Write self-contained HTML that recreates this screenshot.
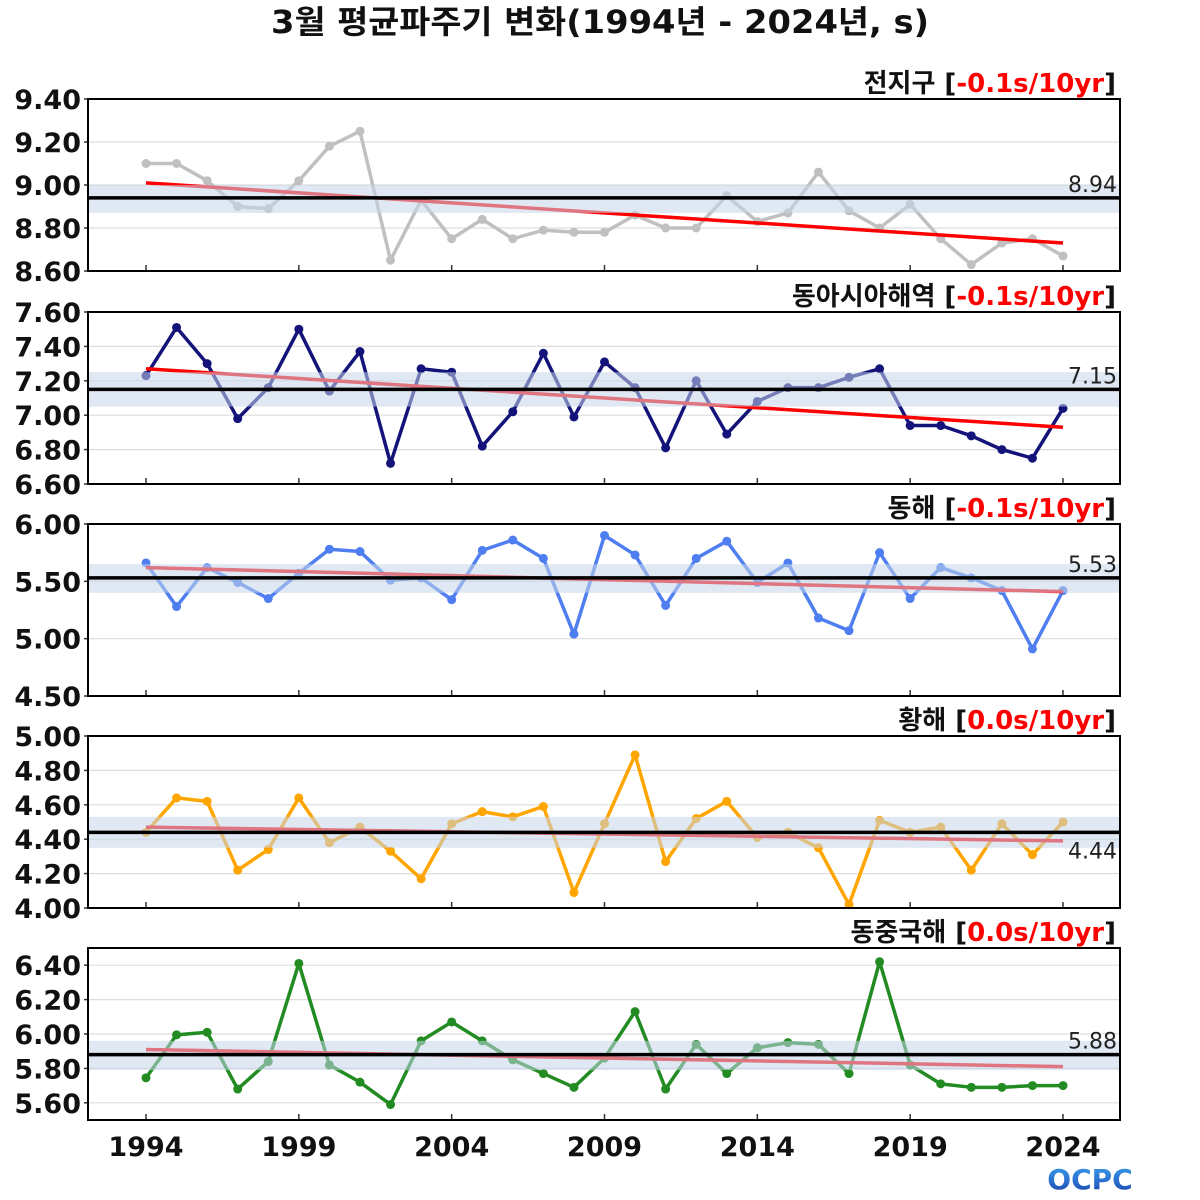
<!DOCTYPE html>
<html><head><meta charset="utf-8">
<style>
html,body{margin:0;padding:0;background:#fff;}
svg{display:block;font-family:"DejaVu Sans","Noto Sans CJK KR",sans-serif;}
</style></head>
<body>
<svg id="chart" width="1200" height="1200" viewBox="0 0 1200 1200" xmlns="http://www.w3.org/2000/svg">
<text x="600" y="33" text-anchor="middle" font-size="32" font-weight="bold" fill="#111" textLength="658" lengthAdjust="spacingAndGlyphs">3월 평균파주기 변화(1994년 - 2024년, s)</text>
<defs><linearGradient id="lg" x1="0" y1="0" x2="0" y2="1"><stop offset="0" stop-color="#3aa0e8"/><stop offset="0.55" stop-color="#2a6fd0"/><stop offset="1" stop-color="#1a3fa0"/></linearGradient></defs>
<text x="1090" y="1189" text-anchor="middle" font-size="28" font-weight="bold" fill="url(#lg)">OCPC</text>
</svg>
<script>
const years = [1994,1995,1996,1997,1998,1999,2000,2001,2002,2003,2004,2005,2006,2007,2008,2009,2010,2011,2012,2013,2014,2015,2016,2017,2018,2019,2020,2021,2022,2023,2024];
const xTickYears = [1994,1999,2004,2009,2014,2019,2024];
const globalVals = [9.10,9.10,9.02,8.90,8.89,9.02,9.18,9.25,8.65,8.93,8.75,8.84,8.75,8.79,8.78,8.78,8.86,8.80,8.80,8.95,8.83,8.87,9.06,8.88,8.80,8.91,8.75,8.63,8.73,8.75,8.67];
const eastAsiaVals = [7.23,7.51,7.30,6.98,7.16,7.50,7.14,7.37,6.72,7.27,7.25,6.82,7.02,7.36,6.99,7.31,7.16,6.81,7.20,6.89,7.08,7.16,7.16,7.22,7.27,6.94,6.94,6.88,6.80,6.75,7.04];
const eastSeaVals = [5.66,5.28,5.62,5.49,5.35,5.57,5.78,5.76,5.51,5.53,5.34,5.77,5.86,5.70,5.04,5.90,5.73,5.29,5.70,5.85,5.49,5.66,5.18,5.07,5.75,5.35,5.62,5.53,5.42,4.91,5.42];
const yellowSeaVals = [4.44,4.64,4.62,4.22,4.34,4.64,4.38,4.47,4.33,4.17,4.49,4.56,4.53,4.59,4.09,4.49,4.89,4.27,4.52,4.62,4.41,4.44,4.35,4.02,4.51,4.44,4.47,4.22,4.49,4.31,4.50];
const ecsVals = [5.745,5.995,6.01,5.68,5.84,6.41,5.82,5.72,5.59,5.96,6.07,5.96,5.85,5.77,5.69,5.86,6.13,5.68,5.94,5.77,5.92,5.95,5.94,5.77,6.42,5.82,5.71,5.69,5.69,5.70,5.70];
const panelNames = ["전지구","동아시아해역","동해","황해","동중국해"];
const trendLabels = ["-0.1s/10yr","-0.1s/10yr","-0.1s/10yr","0.0s/10yr","0.0s/10yr"];
const means = [8.94,7.15,5.53,4.44,5.88];
const bandLow = [8.87,7.05,5.40,4.35,5.79];
const bandHigh = [9.00,7.25,5.65,4.53,5.96];
const trendStart = [9.01,7.27,5.62,4.47,5.91];
const trendEnd = [8.73,6.93,5.41,4.39,5.81];
const yMin = [8.6,6.6,4.5,4.0,5.5];
const yMax = [9.4,7.6,6.0,5.0,6.5];
const yTicks = [[8.6,8.8,9.0,9.2,9.4],[6.6,6.8,7.0,7.2,7.4,7.6],[4.5,5.0,5.5,6.0],[4.0,4.2,4.4,4.6,4.8,5.0],[5.6,5.8,6.0,6.2,6.4]];
const seriesList = [globalVals,eastAsiaVals,eastSeaVals,yellowSeaVals,ecsVals];

const colors = ["#c0c0c0","#13137a","#4f7ef0","#ffa500","#228b22"];
const panelTops = [99,312,524,736,948];
const PH = 172, L = 88, R = 1120;
const svg = document.getElementById('chart');
const NS = "http://www.w3.org/2000/svg";
function mk(tag, attrs, parent){const e=document.createElementNS(NS,tag);for(const k in attrs)e.setAttribute(k,attrs[k]);(parent||svg).appendChild(e);return e;}
const xs = y => 146 + (y-1994)*(1063-146)/30;

for(let p=0;p<5;p++){
  const top=panelTops[p], bot=top+PH;
  const ys = v => bot - (v-yMin[p])/(yMax[p]-yMin[p])*PH;
  const g = mk('g',{});
  
  
  yTicks[p].forEach(t=>{
    const yy=ys(t);
    if(yy>top+1 && yy<bot-1){const gl=mk('line',{x1:L,x2:R,y1:yy,y2:yy,stroke:'#dddddd','stroke-width':1.2},g);
      }
    const yt=mk('line',{x1:L-4,x2:L,y1:yy,y2:yy,stroke:'#333','stroke-width':1.5},g);
    
    const tl=mk('text',{x:81,y:yy+10,'text-anchor':'end','font-size':27,'font-weight':'bold',fill:'#111'},g);
    
    tl.textContent=t.toFixed(2);
  });
  const vals=seriesList[p];
  const pts=vals.map((v,i)=>xs(years[i])+','+ys(v)).join(' ');
  const pl=mk('polyline',{points:pts,fill:'none',stroke:colors[p],'stroke-width':3.5,'stroke-linejoin':'round'},g);
  
  vals.forEach((v,i)=>{const c=mk('circle',{cx:xs(years[i]),cy:ys(v),r:4.5,fill:colors[p]},g);
    });
  const tr=mk('line',{x1:xs(1994),y1:ys(trendStart[p]),x2:xs(2024),y2:ys(trendEnd[p]),stroke:'#ff0000','stroke-width':3.5},g);
  
  const b=mk('rect',{x:L,y:ys(bandHigh[p]),width:R-L,height:ys(bandLow[p])-ys(bandHigh[p]),fill:'rgba(196,214,234,0.55)'},g);
  
  const ml=mk('line',{x1:L,x2:R,y1:ys(means[p]),y2:ys(means[p]),stroke:'#000','stroke-width':3.5},g);
  
  const mt=mk('text',{x:1117,y:p===3?ys(means[p])+26:ys(means[p])-6,'text-anchor':'end','font-size':22,fill:'#222'},g);
  
  mt.textContent=means[p].toFixed(2);
  xTickYears.forEach(yr=>{const tk=mk('line',{x1:xs(yr),x2:xs(yr),y1:bot,y2:bot-6,stroke:'#333','stroke-width':1.5},g);
    });
  const fr=mk('rect',{x:L,y:top,width:R-L,height:PH,fill:'none',stroke:'#000','stroke-width':2},g);
  
  const tt=mk('text',{x:1116,y:top-7,'text-anchor':'end','font-size':26,'font-weight':'bold',fill:'#111'},g);
  
  const s1=mk('tspan',{},tt);s1.textContent=panelNames[p]+' [';
  const s2=mk('tspan',{fill:'#ff0000'},tt);s2.textContent=trendLabels[p];
  const s3=mk('tspan',{},tt);s3.textContent=']';
}
xTickYears.forEach(yr=>{
  const t=mk('text',{x:xs(yr),y:1156,'text-anchor':'middle','font-size':27,'font-weight':'bold',fill:'#111'});
  
  
  t.textContent=yr;
});
</script>
</body></html>
